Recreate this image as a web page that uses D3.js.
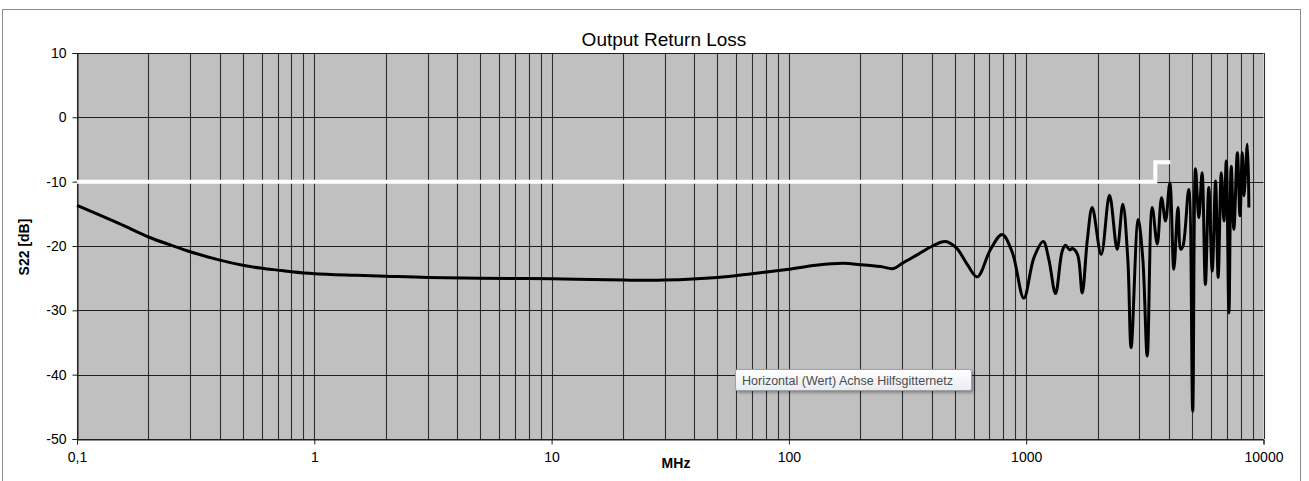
<!DOCTYPE html>
<html>
<head>
<meta charset="utf-8">
<script src="https://cdn.jsdelivr.net/npm/d3@7"></script>
<style>
  html, body { margin: 0; padding: 0; background: #ffffff; }
  svg { display: block; font-family: "Liberation Sans", Arial, sans-serif; }
</style>
</head>
<body>
<svg id="chart" width="1309" height="481"></svg>
<script>
// Measured S22 (output return loss) versus frequency
const freqMHz = [
  0.1, 0.15, 0.2, 0.25, 0.3, 0.4, 0.5, 0.6, 0.7, 0.8, 1, 1.5, 2, 3, 5, 10, 20, 30, 50, 70, 100,
  130, 170, 200, 243, 276, 300, 350, 403, 456, 508, 565, 622, 708, 792, 874, 977, 1078,
  1180, 1246, 1329, 1418, 1465, 1524, 1565, 1645, 1722, 1810, 1898, 2070, 2244, 2417, 2553,
  2680, 2768, 2964, 3100, 3236, 3396, 3566, 3718, 3864, 4030, 4190, 4360, 4480, 4580, 4840,
  5030, 5170, 5340, 5510, 5690, 5880, 6080, 6280, 6440, 6640, 6810, 6970, 7150, 7310,
  7500, 7760, 7960, 8140, 8270, 8550, 8680
];
const s22dB = [
  -13.7, -16.5, -18.6, -19.9, -20.9, -22.2, -23.0, -23.45, -23.75, -24.0, -24.3, -24.55, -24.7, -24.9, -25.0, -25.1, -25.3, -25.3, -24.9, -24.3, -23.6,
  -23.0, -22.7, -22.9, -23.2, -23.5, -22.7, -21.3, -20.0, -19.3, -20.3, -22.9, -24.8, -20.5, -18.2, -21.0, -28.1, -21.8,
  -19.3, -22.1, -27.4, -20.8, -19.9, -20.6, -20.4, -21.3, -27.3, -19.0, -14.0, -21.3, -12.1, -20.5, -13.5,
  -22.0, -35.8, -15.9, -22.0, -37.1, -14.0, -19.7, -12.5, -16.1, -10.2, -23.6, -14.0, -20.5, -20.0, -11.2,
  -45.7, -8.0, -15.6, -8.6, -26.0, -10.9, -23.9, -9.9, -24.9, -8.6, -16.1, -6.8, -30.4, -7.6,
  -17.4, -5.5, -15.3, -5.5, -12.2, -4.2, -14.0
];

// Specification limit (white line)
const limitFreqMHz = [0.1, 3500, 3500, 4050];
const limitDb = [-10, -10, -7, -7];

// Axis definitions
const decadeTicks = [0.1, 1, 10, 100, 1000, 10000];
const decadeLabels = ["0,1", "1", "10", "100", "1000", "10000"];
const dbTicks = [10, 0, -10, -20, -30, -40, -50];

const titleText = "Output Return Loss";
const xTitle = "MHz";
const yTitle = "S22 [dB]";
const tooltipText = "Horizontal (Wert) Achse Hilfsgitternetz";

const svg = d3.select("#chart");
const plot = { left: 77, right: 1263.5, top: 53, bottom: 439 };

const x = d3.scaleLog().domain([0.1, 10000]).range([plot.left, plot.right]);
const y = d3.scaleLinear().domain([-50, 10]).range([plot.bottom, plot.top]);

// Outer chart frame
svg.append("rect")
  .attr("x", 2.5).attr("y", 9.5)
  .attr("width", 1298).attr("height", 480)
  .attr("fill", "#ffffff").attr("stroke", "#8c8c8c").attr("stroke-width", 1);

// Plot area
svg.append("rect")
  .attr("x", plot.left).attr("y", plot.top)
  .attr("width", plot.right - plot.left).attr("height", plot.bottom - plot.top)
  .attr("fill", "#c0c0c0");

// Minor vertical grid: 1..9 in every decade
const minorTicks = [];
decadeTicks.slice(0, -1).forEach(d => {
  for (let k = 1; k <= 9; k++) minorTicks.push(d * k);
});
minorTicks.push(decadeTicks[decadeTicks.length - 1]);

svg.append("g")
  .selectAll("line")
  .data(minorTicks)
  .join("line")
  .attr("x1", d => Math.round(x(d)) + 0.5)
  .attr("x2", d => Math.round(x(d)) + 0.5)
  .attr("y1", plot.top).attr("y2", plot.bottom)
  .attr("stroke", "#2e2e2e").attr("stroke-width", 1.1);

// Horizontal grid
svg.append("g")
  .selectAll("line")
  .data(dbTicks)
  .join("line")
  .attr("x1", plot.left).attr("x2", plot.right)
  .attr("y1", d => Math.round(y(d)) + 0.5)
  .attr("y2", d => Math.round(y(d)) + 0.5)
  .attr("stroke", "#1e1e1e").attr("stroke-width", 1.1);

// Axes (plain hyphen for negative numbers)
const yAxis = d3.axisLeft(y).tickValues(dbTicks).tickSize(5).tickPadding(6).tickFormat(d => String(d));
const gy = svg.append("g").attr("transform", `translate(${plot.left + 0.5},0)`).call(yAxis);
gy.select(".domain").attr("stroke", "#1e1e1e");
gy.selectAll(".tick line").attr("stroke", "#1e1e1e");
gy.selectAll(".tick text")
  .attr("font-size", 14).attr("fill", "#000")
  .attr("font-family", "Liberation Sans, Arial, sans-serif");

const xAxis = d3.axisBottom(x).tickValues(decadeTicks).tickSize(5).tickPadding(8)
  .tickFormat((d, i) => decadeLabels[i]);
const gx = svg.append("g").attr("transform", `translate(0,${plot.bottom + 0.5})`).call(xAxis);
gx.select(".domain").attr("stroke", "#1e1e1e");
gx.selectAll(".tick line").attr("stroke", "#1e1e1e");
gx.selectAll(".tick text")
  .attr("font-size", 14).attr("fill", "#000")
  .attr("font-family", "Liberation Sans, Arial, sans-serif");

// Limit line
const limitData = limitFreqMHz.map((f, i) => [f, limitDb[i]]);
svg.append("path")
  .datum(limitData)
  .attr("fill", "none")
  .attr("stroke", "#ffffff")
  .attr("stroke-width", 4)
  .attr("d", d3.line().x(d => x(d[0])).y(d => y(d[1])));

// Measured curve
const curveData = freqMHz.map((f, i) => [f, s22dB[i]]);
svg.append("path")
  .datum(curveData)
  .attr("fill", "none")
  .attr("stroke", "#000000")
  .attr("stroke-width", 3)
  .attr("stroke-linejoin", "round")
  .attr("d", d3.line().x(d => x(d[0])).y(d => y(d[1])).curve(d3.curveCatmullRom.alpha(0.5)));

// Titles
svg.append("text")
  .attr("x", 664).attr("y", 46)
  .attr("text-anchor", "middle")
  .attr("font-size", 19).attr("fill", "#000")
  .text(titleText);

svg.append("text")
  .attr("x", 676).attr("y", 468)
  .attr("text-anchor", "middle")
  .attr("font-size", 14).attr("font-weight", "bold").attr("fill", "#000")
  .text(xTitle);

svg.append("text")
  .attr("transform", "translate(29,247) rotate(-90)")
  .attr("text-anchor", "middle")
  .attr("font-size", 14).attr("font-weight", "bold").attr("fill", "#000")
  .text(yTitle);

// Hover hint box
const defs = svg.append("defs");
const shadow = defs.append("filter").attr("id", "tipShadow")
  .attr("x", "-10%").attr("y", "-30%").attr("width", "130%").attr("height", "180%");
shadow.append("feDropShadow").attr("dx", 2).attr("dy", 2).attr("stdDeviation", 1.5)
  .attr("flood-color", "#000").attr("flood-opacity", 0.3);
const grad = defs.append("linearGradient").attr("id", "tipFill").attr("x1", 0).attr("y1", 0).attr("x2", 0).attr("y2", 1);
grad.append("stop").attr("offset", "0%").attr("stop-color", "#ffffff");
grad.append("stop").attr("offset", "100%").attr("stop-color", "#e8ebf2");

const tip = svg.append("g");
tip.append("rect")
  .attr("x", 735.5).attr("y", 369.5)
  .attr("width", 236).attr("height", 21)
  .attr("rx", 2)
  .attr("fill", "url(#tipFill)")
  .attr("stroke", "#a0a0a0")
  .attr("filter", "url(#tipShadow)");
tip.append("text")
  .attr("x", 742).attr("y", 385)
  .attr("font-size", 12.5).attr("fill", "#4c4c4c")
  .text(tooltipText);
</script>
</body>
</html>
